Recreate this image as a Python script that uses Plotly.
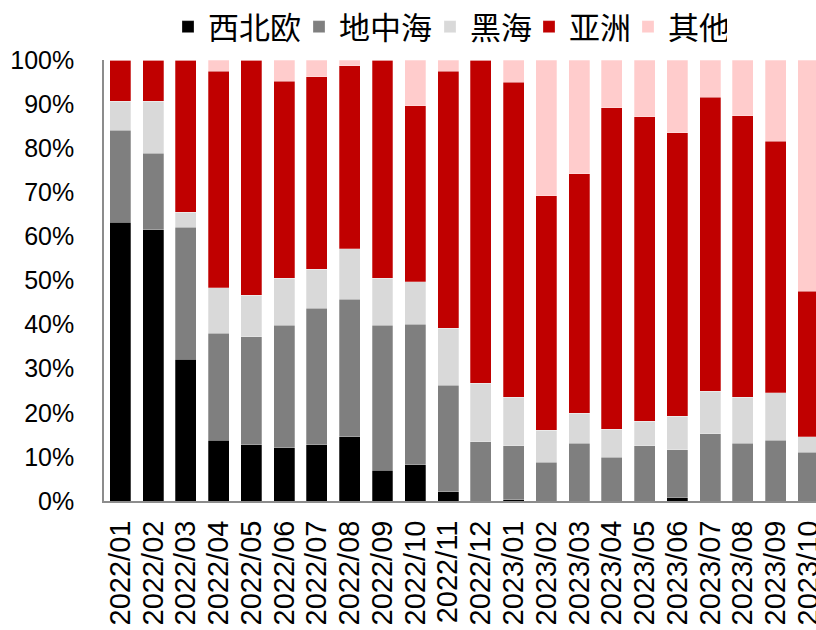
import plotly.graph_objects as go

months = ["2022/01", "2022/02", "2022/03", "2022/04", "2022/05", "2022/06", "2022/07",
          "2022/08", "2022/09", "2022/10", "2022/11", "2022/12", "2023/01", "2023/02",
          "2023/03", "2023/04", "2023/05", "2023/06", "2023/07", "2023/08", "2023/09",
          "2023/10"]

nw_europe = [63.2, 61.5, 32.2, 13.8, 12.7, 12.1, 12.7, 14.6, 7.0, 8.2, 2.1, 0.0,
             0.3, 0.0, 0.0, 0.0, 0.0, 0.7, 0.0, 0.0, 0.0, 0.0]
mediterranean = [20.9, 17.3, 29.9, 24.2, 24.6, 27.7, 31.0, 31.2, 32.8, 31.9, 24.2, 13.4,
                 12.2, 8.8, 13.1, 9.9, 12.5, 10.9, 15.2, 13.1, 13.8, 11.0]
black_sea = [6.6, 11.9, 3.4, 10.4, 9.3, 10.7, 8.9, 11.4, 10.7, 9.6, 12.9, 13.3,
             11.0, 7.2, 6.8, 6.4, 5.6, 7.6, 9.7, 10.4, 10.7, 3.6]
asia = [9.3, 9.3, 34.5, 49.0, 53.4, 44.7, 43.6, 41.5, 49.5, 39.9, 58.2, 73.3,
        71.4, 53.2, 54.3, 72.9, 69.0, 64.3, 66.7, 63.9, 57.1, 33.0]
others = [0.0, 0.0, 0.0, 2.6, 0.0, 4.8, 3.8, 1.3, 0.0, 10.4, 2.6, 0.0,
          5.1, 30.8, 25.8, 10.8, 12.9, 16.5, 8.4, 12.6, 18.4, 52.4]

series_names = ["西北欧", "地中海", "黑海", "亚洲", "其他"]
series_values = [nw_europe, mediterranean, black_sea, asia, others]
series_colors = ["#000000", "#7F7F7F", "#D9D9D9", "#C00000", "#FFCCCC"]
legend_widths = [86, 86, 54, 54, 54]

y_ticks = [0, 10, 20, 30, 40, 50, 60, 70, 80, 90, 100]

fig = go.Figure()
for name, vals, color, lw in zip(series_names, series_values, series_colors, legend_widths):
    fig.add_trace(go.Bar(
        x=months, y=vals, name=name,
        marker=dict(color=color, line=dict(color="rgba(255,255,255,0.45)", width=0.6)),
        legendwidth=lw,
    ))

fig.update_layout(
    width=816, height=630,
    autosize=False,
    barmode="stack",
    bargap=0.36,
    paper_bgcolor="white",
    plot_bgcolor="white",
    margin=dict(l=104, r=0, t=60, b=129, pad=0, autoexpand=False),
    legend=dict(
        orientation="h",
        traceorder="normal",
        xref="container", yref="container",
        x=168 / 816, xanchor="left",
        y=1.0, yanchor="top",
        font=dict(family="Noto Sans CJK SC", size=31, color="#000000"),
        bgcolor="rgba(0,0,0,0)",
        itemwidth=30,
    ),
    font=dict(family="Liberation Sans, Arial", color="#000000"),
)

fig.update_xaxes(
    type="category",
    range=[-0.5, 21.23],
    tickmode="array",
    tickvals=months,
    ticktext=months,
    tickangle=-90,
    tickfont=dict(family="Liberation Sans, Arial", size=29, color="#000000"),
    showline=True, linecolor="#8C8C8C", linewidth=2,
    ticks="", showgrid=False, zeroline=False,
    ticklabelstandoff=6,
    automargin=False,
)
fig.update_yaxes(
    range=[0, 100],
    tickvals=y_ticks,
    ticktext=[f"{v}%" for v in y_ticks],
    tickfont=dict(family="Liberation Sans, Arial", size=25, color="#000000"),
    showline=True, linecolor="#8C8C8C", linewidth=1.5,
    ticks="", showgrid=False, zeroline=False,
    ticklabelstandoff=23,
    automargin=False,
)

fig.write_html("out.html")
